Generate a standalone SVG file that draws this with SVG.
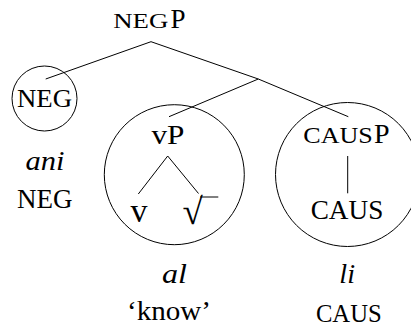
<svg xmlns="http://www.w3.org/2000/svg" width="411" height="326" viewBox="0 0 411 326">
<style>
  .t { font-family: "Liberation Serif", "Times New Roman", serif; fill: #000; }
  .i { font-style: italic; }
  .c { fill: none; stroke: #000; stroke-width: 1; }
  .ln { stroke: #000; stroke-width: 1; fill: none; }
</style>
<rect width="411" height="326" fill="#fff"/>
<g id="connectors" class="ln">
  <line x1="151" y1="41.7" x2="45.7" y2="79"/>
  <line x1="151" y1="41.7" x2="258.3" y2="79"/>
  <line x1="258.3" y1="79" x2="169" y2="116.7"/>
  <line x1="258.3" y1="79" x2="348.3" y2="116.7"/>
  <line x1="167.7" y1="156" x2="138.3" y2="194"/>
  <line x1="167.7" y1="156" x2="198.5" y2="193.5"/>
  <line x1="347.7" y1="156" x2="347.7" y2="193.3"/>
</g>
<g id="negp">
  <text class="t" x="113.3" y="28.3" font-size="21" textLength="55" lengthAdjust="spacingAndGlyphs">NEG</text>
  <text class="t" x="170.5" y="28.3" font-size="27">P</text>
</g>
<g id="neg">
  <circle class="c" cx="44.5" cy="98.5" r="32.5"/>
  <text class="t" x="44.5" y="106.7" font-size="25" text-anchor="middle" textLength="55" lengthAdjust="spacingAndGlyphs">NEG</text>
</g>
<g id="neg-gloss">
  <text class="t i" x="45" y="170" font-size="28" text-anchor="middle" textLength="39" lengthAdjust="spacingAndGlyphs">ani</text>
  <text class="t" x="44.7" y="208.3" font-size="27" text-anchor="middle" textLength="55.5" lengthAdjust="spacingAndGlyphs">NEG</text>
</g>
<g id="vp-domain">
  <circle class="c" cx="174.3" cy="174.7" r="70"/>
</g>
<g id="vp">
  <text class="t" x="168" y="144.3" font-size="27" text-anchor="middle" textLength="33" lengthAdjust="spacingAndGlyphs">vP</text>
</g>
<g id="v">
  <text class="t" x="139" y="222.3" font-size="34" text-anchor="middle">v</text>
</g>
<g id="root">
  <text class="t" x="182.5" y="224" font-size="37">√</text>
  <line class="ln" x1="200" y1="197" x2="218.3" y2="197"/>
</g>
<g id="vp-gloss">
  <text class="t i" x="174.5" y="283.3" font-size="27" text-anchor="middle" textLength="25" lengthAdjust="spacingAndGlyphs">al</text>
  <text class="t" x="169" y="320" font-size="27" text-anchor="middle" textLength="84" lengthAdjust="spacingAndGlyphs">‘know’</text>
</g>
<g id="causp-domain">
  <circle class="c" cx="347.5" cy="174.5" r="72"/>
</g>
<g id="causp">
  <text class="t" x="303.3" y="143.3" font-size="23" textLength="69.5" lengthAdjust="spacingAndGlyphs">CAUS</text>
  <text class="t" x="374" y="143.3" font-size="28">P</text>
</g>
<g id="caus">
  <text class="t" x="347" y="219" font-size="26.5" text-anchor="middle" textLength="72.6" lengthAdjust="spacingAndGlyphs">CAUS</text>
</g>
<g id="caus-gloss">
  <text class="t i" x="347.2" y="283.3" font-size="27" text-anchor="middle" textLength="15.7" lengthAdjust="spacingAndGlyphs">li</text>
  <text class="t" x="348.8" y="322" font-size="25" text-anchor="middle" textLength="65.7" lengthAdjust="spacingAndGlyphs">CAUS</text>
</g>
</svg>
